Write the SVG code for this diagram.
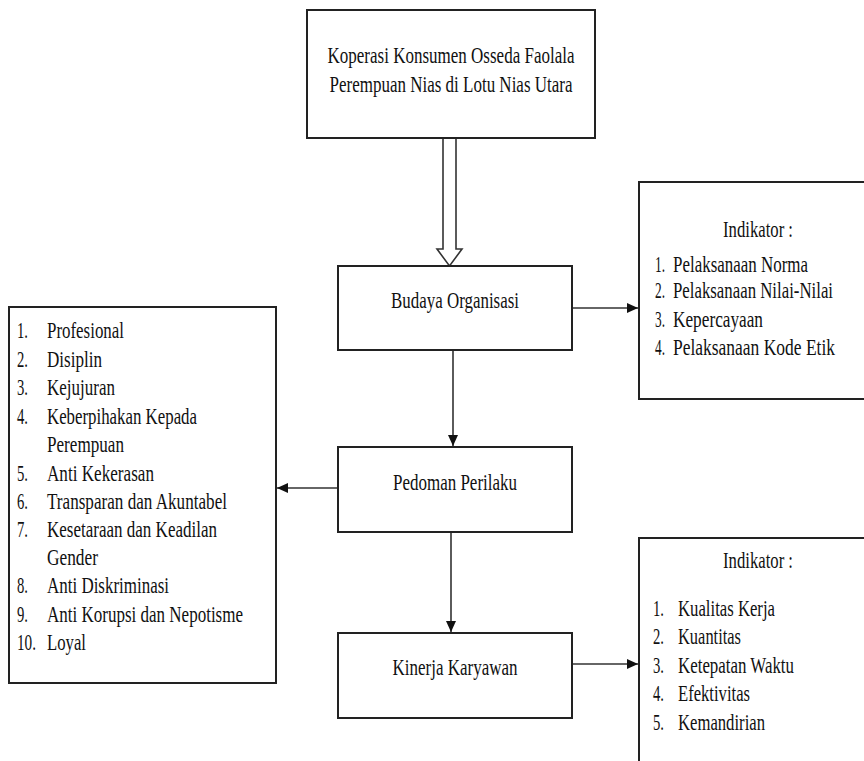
<svg xmlns="http://www.w3.org/2000/svg" width="864" height="761" viewBox="0 0 864 761">
<style>
.box{fill:#fff;stroke:#222;stroke-width:2}
.t{font-family:"Liberation Serif","Times New Roman",serif;font-size:23px;fill:#111}
.m{text-anchor:middle}
.c{stroke:#333;stroke-width:1.6;fill:none}
</style>
<defs>
<marker id="ah" markerUnits="userSpaceOnUse" markerWidth="12" markerHeight="12" viewBox="0 0 12 12" refX="11" refY="6" orient="auto">
<path d="M0,1 L11,6 L0,11 Z" fill="#111"/>
</marker>
</defs>
<rect width="864" height="761" fill="#fff"/>
<g id="connectors">
<path d="M443,139 V249 H437 L449.5,266 L462,249 H456 V139" fill="#fff" stroke="#333" stroke-width="1.6"/>
<line class="c" x1="572" y1="308" x2="638" y2="308" marker-end="url(#ah)"/>
<line class="c" x1="453" y1="350" x2="453" y2="446" marker-end="url(#ah)"/>
<line class="c" x1="338" y1="488" x2="277" y2="488" marker-end="url(#ah)"/>
<line class="c" x1="451" y1="532" x2="451" y2="632" marker-end="url(#ah)"/>
<line class="c" x1="572" y1="664" x2="638" y2="664" marker-end="url(#ah)"/>
</g>
<g id="koperasi">
<rect class="box" x="307" y="10" width="288" height="128"/>
<text class="t m" x="451" y="63" textLength="247" lengthAdjust="spacingAndGlyphs">Koperasi Konsumen Osseda Faolala</text>
<text class="t m" x="451" y="92" textLength="243" lengthAdjust="spacingAndGlyphs">Perempuan Nias di Lotu Nias Utara</text>
</g>
<g id="budaya">
<rect class="box" x="338" y="266" width="234" height="84"/>
<text class="t m" x="455" y="308" textLength="128" lengthAdjust="spacingAndGlyphs">Budaya Organisasi</text>
</g>
<g id="pedoman">
<rect class="box" x="338" y="447" width="234" height="85"/>
<text class="t m" x="455" y="490" textLength="124" lengthAdjust="spacingAndGlyphs">Pedoman Perilaku</text>
</g>
<g id="kinerja">
<rect class="box" x="338" y="633" width="234" height="85"/>
<text class="t m" x="455" y="675" textLength="125" lengthAdjust="spacingAndGlyphs">Kinerja Karyawan</text>
</g>
<g id="indikator-budaya">
<rect class="box" x="639" y="182" width="240" height="217"/>
<text class="t m" x="758" y="237" textLength="70" lengthAdjust="spacingAndGlyphs">Indikator :</text>
<text class="t" x="655" y="272" textLength="10" lengthAdjust="spacingAndGlyphs">1.</text>
<text class="t" x="673" y="272" textLength="135" lengthAdjust="spacingAndGlyphs">Pelaksanaan Norma</text>
<text class="t" x="655" y="298" textLength="10" lengthAdjust="spacingAndGlyphs">2.</text>
<text class="t" x="673" y="298" textLength="160" lengthAdjust="spacingAndGlyphs">Pelaksanaan Nilai-Nilai</text>
<text class="t" x="655" y="327" textLength="10" lengthAdjust="spacingAndGlyphs">3.</text>
<text class="t" x="673" y="327" textLength="90" lengthAdjust="spacingAndGlyphs">Kepercayaan</text>
<text class="t" x="655" y="355" textLength="10" lengthAdjust="spacingAndGlyphs">4.</text>
<text class="t" x="673" y="355" textLength="162" lengthAdjust="spacingAndGlyphs">Pelaksanaan Kode Etik</text>
</g>
<g id="pedoman-list">
<rect class="box" x="9" y="307" width="267" height="376"/>
<text class="t" x="17" y="338" textLength="11" lengthAdjust="spacingAndGlyphs">1.</text>
<text class="t" x="47" y="338" textLength="77" lengthAdjust="spacingAndGlyphs">Profesional</text>
<text class="t" x="17" y="367" textLength="11" lengthAdjust="spacingAndGlyphs">2.</text>
<text class="t" x="47" y="367" textLength="55" lengthAdjust="spacingAndGlyphs">Disiplin</text>
<text class="t" x="17" y="395" textLength="11" lengthAdjust="spacingAndGlyphs">3.</text>
<text class="t" x="47" y="395" textLength="68" lengthAdjust="spacingAndGlyphs">Kejujuran</text>
<text class="t" x="17" y="424" textLength="11" lengthAdjust="spacingAndGlyphs">4.</text>
<text class="t" x="47" y="424" textLength="150" lengthAdjust="spacingAndGlyphs">Keberpihakan Kepada</text>
<text class="t" x="47" y="452" textLength="77" lengthAdjust="spacingAndGlyphs">Perempuan</text>
<text class="t" x="17" y="481" textLength="11" lengthAdjust="spacingAndGlyphs">5.</text>
<text class="t" x="47" y="481" textLength="107" lengthAdjust="spacingAndGlyphs">Anti Kekerasan</text>
<text class="t" x="17" y="509" textLength="11" lengthAdjust="spacingAndGlyphs">6.</text>
<text class="t" x="47" y="509" textLength="180" lengthAdjust="spacingAndGlyphs">Transparan dan Akuntabel</text>
<text class="t" x="17" y="537" textLength="11" lengthAdjust="spacingAndGlyphs">7.</text>
<text class="t" x="47" y="537" textLength="170" lengthAdjust="spacingAndGlyphs">Kesetaraan dan Keadilan</text>
<text class="t" x="47" y="565" textLength="51" lengthAdjust="spacingAndGlyphs">Gender</text>
<text class="t" x="17" y="593" textLength="11" lengthAdjust="spacingAndGlyphs">8.</text>
<text class="t" x="47" y="593" textLength="122" lengthAdjust="spacingAndGlyphs">Anti Diskriminasi</text>
<text class="t" x="17" y="622" textLength="11" lengthAdjust="spacingAndGlyphs">9.</text>
<text class="t" x="47" y="622" textLength="196" lengthAdjust="spacingAndGlyphs">Anti Korupsi dan Nepotisme</text>
<text class="t" x="17" y="650" textLength="19" lengthAdjust="spacingAndGlyphs">10.</text>
<text class="t" x="47" y="650" textLength="39" lengthAdjust="spacingAndGlyphs">Loyal</text>
</g>
<g id="indikator-kinerja">
<rect class="box" x="639" y="538" width="240" height="240"/>
<text class="t m" x="758" y="568" textLength="70" lengthAdjust="spacingAndGlyphs">Indikator :</text>
<text class="t" x="653" y="616" textLength="11" lengthAdjust="spacingAndGlyphs">1.</text>
<text class="t" x="678" y="616" textLength="97" lengthAdjust="spacingAndGlyphs">Kualitas Kerja</text>
<text class="t" x="653" y="644" textLength="11" lengthAdjust="spacingAndGlyphs">2.</text>
<text class="t" x="678" y="644" textLength="63" lengthAdjust="spacingAndGlyphs">Kuantitas</text>
<text class="t" x="653" y="673" textLength="11" lengthAdjust="spacingAndGlyphs">3.</text>
<text class="t" x="678" y="673" textLength="116" lengthAdjust="spacingAndGlyphs">Ketepatan Waktu</text>
<text class="t" x="653" y="701" textLength="11" lengthAdjust="spacingAndGlyphs">4.</text>
<text class="t" x="678" y="701" textLength="72" lengthAdjust="spacingAndGlyphs">Efektivitas</text>
<text class="t" x="653" y="730" textLength="11" lengthAdjust="spacingAndGlyphs">5.</text>
<text class="t" x="678" y="730" textLength="87" lengthAdjust="spacingAndGlyphs">Kemandirian</text>
</g>
</svg>
